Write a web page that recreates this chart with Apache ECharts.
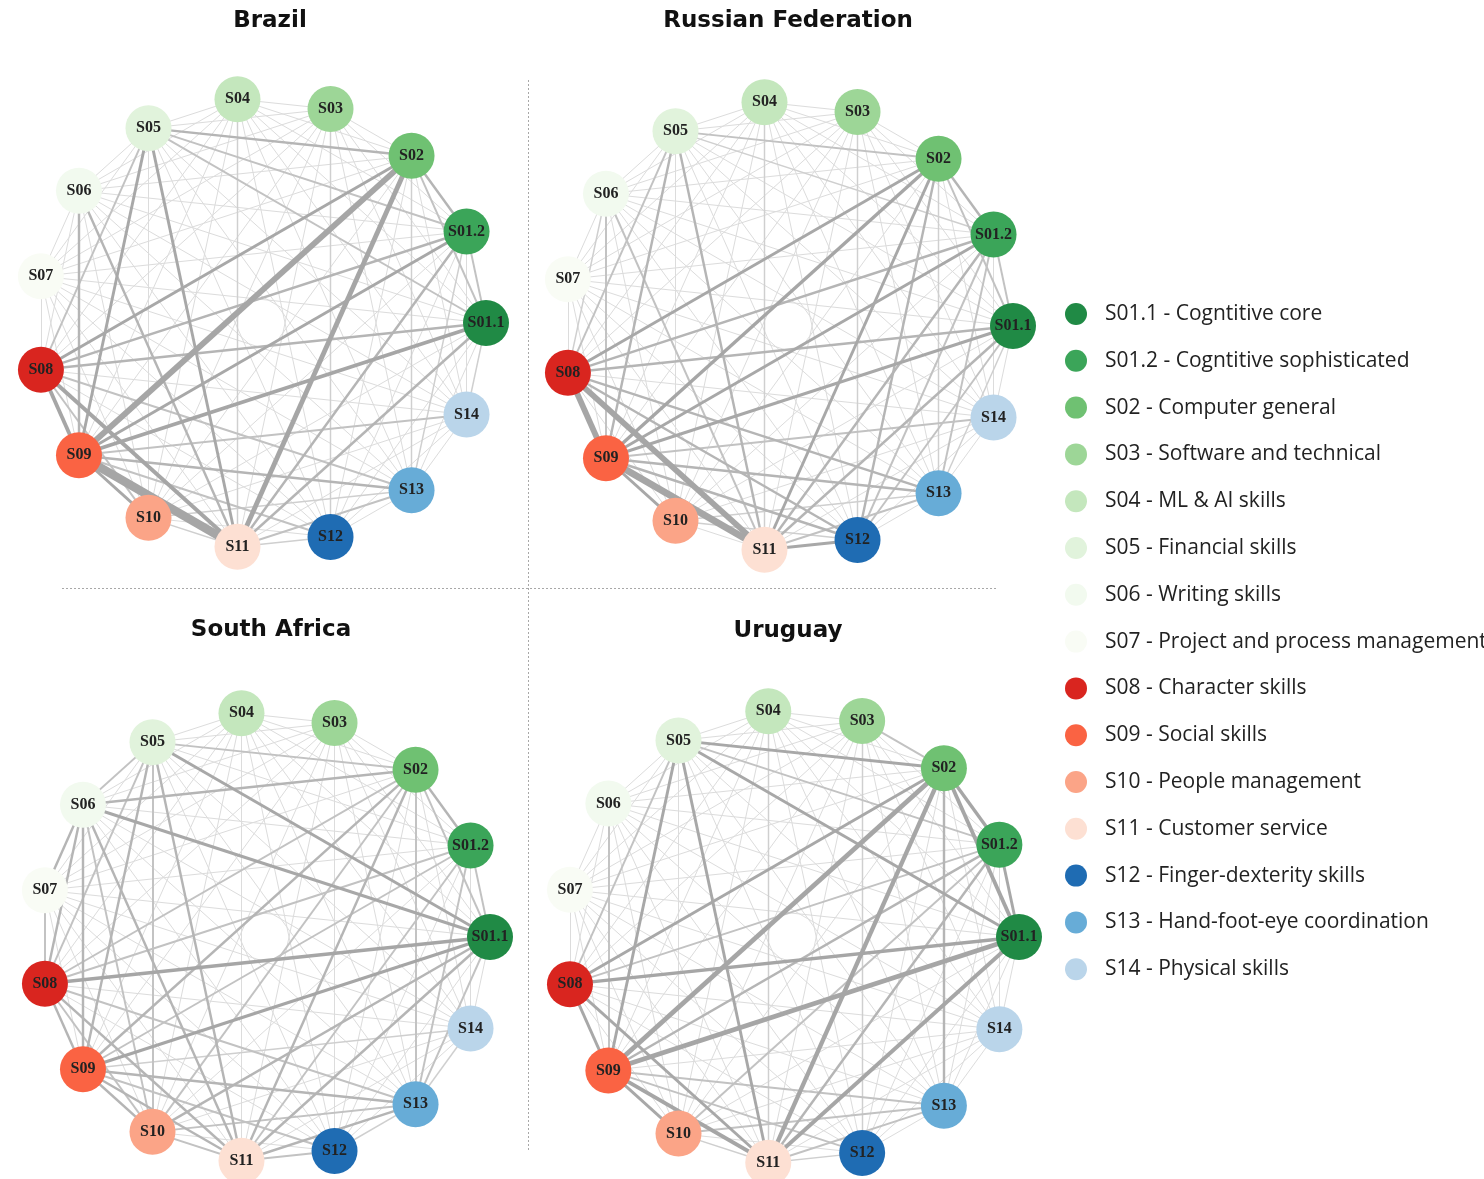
<!DOCTYPE html>
<html>
<head>
<meta charset="utf-8">
<script src="https://cdn.jsdelivr.net/npm/echarts@6/dist/echarts.min.js"></script>
<style>
  html, body { margin: 0; padding: 0; background: #ffffff; }
  #chart { width: 1484px; height: 1179px; }
</style>
</head>
<body>
<div id="chart"></div>
<script>
// Skill groups shown as nodes, in the order they sit around each ring
const skillIds = ['S01.1', 'S01.2', 'S02', 'S03', 'S04', 'S05', 'S06', 'S07',
                  'S08', 'S09', 'S10', 'S11', 'S12', 'S13', 'S14'];
const skillNames = ['Cogntitive core', 'Cogntitive sophisticated', 'Computer general',
  'Software and technical', 'ML & AI skills', 'Financial skills', 'Writing skills',
  'Project and process management', 'Character skills', 'Social skills',
  'People management', 'Customer service', 'Finger-dexterity skills',
  'Hand-foot-eye coordination', 'Physical skills'];
const countries = ['Brazil', 'Russian Federation', 'South Africa', 'Uruguay'];

// Co-occurrence strength of every pair not listed below
const baseLevel = 1;

// Stronger skill pairs per country: [skill, skill, strength]
const brazilLinks = [
  ['S09', 'S11', 9], ['S09', 'S02', 6], ['S11', 'S02', 5], ['S08', 'S09', 4],
  ['S08', 'S11', 4], ['S09', 'S01.1', 4], ['S09', 'S10', 3], ['S09', 'S01.2', 3],
  ['S08', 'S02', 3], ['S05', 'S09', 3], ['S05', 'S11', 3], ['S08', 'S01.2', 2.5],
  ['S08', 'S01.1', 2.5], ['S05', 'S02', 2.5], ['S06', 'S09', 2.5], ['S06', 'S11', 2.5],
  ['S11', 'S01.2', 2.5], ['S11', 'S01.1', 2.5], ['S09', 'S13', 2.5], ['S02', 'S01.2', 2.5],
  ['S05', 'S08', 2], ['S05', 'S01.2', 2], ['S05', 'S01.1', 2], ['S11', 'S13', 2],
  ['S09', 'S12', 2], ['S08', 'S13', 2], ['S08', 'S10', 2], ['S01.2', 'S01.1', 2],
  ['S02', 'S01.1', 2], ['S09', 'S14', 2], ['S02', 'S13', 1.5], ['S03', 'S12', 1.5],
  ['S04', 'S11', 1.5], ['S10', 'S13', 1.5], ['S11', 'S12', 1.5], ['S10', 'S11', 1.5],
  ['S13', 'S01.2', 1.5], ['S14', 'S01.1', 1.5]
];
const russiaLinks = [
  ['S09', 'S11', 7], ['S08', 'S11', 6], ['S08', 'S09', 6], ['S09', 'S02', 3.5],
  ['S09', 'S10', 3], ['S08', 'S02', 3], ['S09', 'S01.2', 3], ['S09', 'S01.1', 3],
  ['S11', 'S02', 3], ['S11', 'S12', 3], ['S08', 'S01.2', 2.5], ['S08', 'S01.1', 2.5],
  ['S08', 'S12', 2.5], ['S08', 'S13', 2.5], ['S09', 'S12', 2.5], ['S09', 'S13', 2.5],
  ['S11', 'S01.2', 2.5], ['S11', 'S01.1', 2.5], ['S05', 'S11', 2.5], ['S05', 'S09', 2.5],
  ['S12', 'S02', 2.5], ['S02', 'S01.2', 2.5], ['S05', 'S08', 2], ['S05', 'S02', 2],
  ['S06', 'S09', 2], ['S06', 'S11', 2], ['S09', 'S14', 2], ['S11', 'S13', 2],
  ['S12', 'S01.2', 2], ['S12', 'S01.1', 2], ['S01.2', 'S01.1', 2], ['S02', 'S01.1', 2],
  ['S13', 'S01.2', 2], ['S05', 'S01.2', 1.5], ['S06', 'S08', 1.5], ['S13', 'S01.1', 1.5],
  ['S10', 'S12', 1.5], ['S10', 'S13', 1.5], ['S04', 'S11', 1.5], ['S03', 'S12', 1.5],
  ['S02', 'S13', 1.5]
];
const southAfricaLinks = [
  ['S09', 'S01.1', 3.5], ['S08', 'S01.1', 3.5], ['S05', 'S01.1', 3], ['S06', 'S01.1', 3],
  ['S10', 'S01.1', 2.5], ['S11', 'S01.1', 2.5], ['S06', 'S02', 2.5], ['S09', 'S02', 2.5],
  ['S11', 'S02', 2.5], ['S02', 'S01.2', 2.5], ['S05', 'S09', 2.5], ['S05', 'S11', 2.5],
  ['S06', 'S08', 2.5], ['S06', 'S09', 2.5], ['S06', 'S11', 2.5], ['S06', 'S07', 2.5],
  ['S08', 'S09', 2.5], ['S08', 'S11', 2.5], ['S09', 'S10', 2.5], ['S09', 'S11', 2.5],
  ['S09', 'S13', 2.5], ['S11', 'S13', 2.5], ['S02', 'S01.1', 2], ['S01.2', 'S01.1', 2],
  ['S13', 'S01.1', 2], ['S08', 'S02', 2], ['S10', 'S02', 2], ['S02', 'S13', 2],
  ['S05', 'S08', 2], ['S05', 'S10', 2], ['S05', 'S02', 2], ['S05', 'S06', 2],
  ['S06', 'S10', 2], ['S07', 'S08', 2], ['S08', 'S10', 2], ['S08', 'S13', 2],
  ['S09', 'S12', 2], ['S10', 'S11', 2], ['S10', 'S13', 2], ['S11', 'S12', 2],
  ['S11', 'S01.2', 2], ['S13', 'S01.2', 2], ['S08', 'S01.2', 2], ['S09', 'S01.2', 2],
  ['S12', 'S13', 1.5], ['S13', 'S14', 1.5], ['S09', 'S14', 1.5]
];
const uruguayLinks = [
  ['S09', 'S02', 5], ['S09', 'S01.1', 5], ['S11', 'S02', 4.5], ['S11', 'S01.1', 4],
  ['S09', 'S11', 4], ['S02', 'S01.1', 4], ['S08', 'S01.1', 3.5], ['S02', 'S01.2', 3.5],
  ['S09', 'S10', 3], ['S08', 'S09', 3], ['S08', 'S11', 3], ['S08', 'S02', 3],
  ['S01.2', 'S01.1', 3], ['S05', 'S02', 3], ['S05', 'S01.1', 3], ['S05', 'S09', 3],
  ['S05', 'S11', 3], ['S09', 'S01.2', 2.5], ['S11', 'S01.2', 2.5], ['S02', 'S13', 2.5],
  ['S05', 'S01.2', 2], ['S05', 'S08', 2], ['S11', 'S13', 2], ['S03', 'S02', 2],
  ['S08', 'S01.2', 2], ['S10', 'S13', 2], ['S09', 'S13', 2], ['S09', 'S12', 2],
  ['S06', 'S09', 2], ['S10', 'S01.2', 2], ['S04', 'S11', 1.5], ['S03', 'S12', 1.5],
  ['S11', 'S12', 1.5], ['S10', 'S11', 1.5]
];
const countryLinks = [brazilLinks, russiaLinks, southAfricaLinks, uruguayLinks];

// Node fill colours: greens for cognitive/technical, reds for socio-emotional, blues for manual
const skillColors = ['#208a45', '#3ba559', '#6fc172', '#9dd697', '#c4e7bd', '#e1f3dc',
  '#f2faef', '#f9fcf5', '#d9251f', '#fa6343', '#fba487', '#fde0d3', '#1f6cb3',
  '#67acd7', '#bad5ea'];

// Ring placement and title placement of each panel
const panels = [
  { center: [261, 323], radius: 225, titleX: 270, titleY: 10 },
  { center: [788, 326], radius: 225, titleX: 788, titleY: 10 },
  { center: [265, 937], radius: 225, titleX: 271, titleY: 619 },
  { center: [792, 937], radius: 227, titleX: 788, titleY: 620 }
];

const legendNames = skillIds.map((id, k) => id + ' - ' + skillNames[k]);

function edgeStyle(level) {
  const width = level <= 1 ? 1 : 1 + (level - 1) * 0.95;
  const g = Math.round(Math.max(166, 220 - (level - 1) * 26));
  return { width: width, color: 'rgb(' + g + ',' + g + ',' + g + ')', opacity: 1, curveness: 0 };
}

function buildLinks(strong) {
  const lookup = {};
  strong.forEach(([a, b, v]) => { lookup[a + '|' + b] = v; lookup[b + '|' + a] = v; });
  const out = [];
  for (let i = 0; i < skillIds.length; i++) {
    for (let j = i + 1; j < skillIds.length; j++) {
      const key = skillIds[i] + '|' + skillIds[j];
      const v = lookup[key] !== undefined ? lookup[key] : baseLevel;
      out.push({ source: skillIds[i], target: skillIds[j], value: v, lineStyle: edgeStyle(v) });
    }
  }
  // faint pairs first so the strong ones are painted over them
  out.sort((p, q) => p.value - q.value);
  return out;
}

const categories = legendNames.map((name, k) => ({ name: name, itemStyle: { color: skillColors[k] } }));

const option = {
  backgroundColor: '#ffffff',
  animation: false,
  title: countries.map((c, i) => ({
    text: c,
    left: panels[i].titleX,
    top: panels[i].titleY,
    padding: 0,
    textAlign: 'center',
    textStyle: { fontFamily: 'DejaVu Sans', fontWeight: 'bold', fontSize: 23, color: '#111111' }
  })),
  legend: {
    orient: 'vertical',
    left: 1065,
    top: 303,
    padding: 0,
    itemWidth: 38,
    itemHeight: 22,
    itemGap: 24.8,
    icon: 'circle',
    selectedMode: false,
    data: legendNames,
    textStyle: { fontFamily: 'Open Sans', fontSize: 21, color: '#222222', lineHeight: 22, padding: [0, 0, 0, 5] }
  },
  polar: panels.map(p => ({ center: p.center, radius: [0, p.radius] })),
  angleAxis: panels.map((p, i) => ({
    polarIndex: i, type: 'value', min: 0, max: skillIds.length, startAngle: 0,
    clockwise: false, show: false
  })),
  radiusAxis: panels.map((p, i) => ({ polarIndex: i, type: 'value', min: 0, max: 1, show: false })),
  graphic: [
    { type: 'line', silent: true, shape: { x1: 528.5, y1: 80, x2: 528.5, y2: 1152 },
      style: { stroke: '#a8a8a8', lineWidth: 1, lineDash: [2, 2] } },
    { type: 'line', silent: true, shape: { x1: 62, y1: 588.5, x2: 998, y2: 588.5 },
      style: { stroke: '#a8a8a8', lineWidth: 1, lineDash: [2, 2] } }
  ],
  series: countries.map((c, i) => ({
    name: c,
    type: 'graph',
    coordinateSystem: 'polar',
    polarIndex: i,
    layout: 'none',
    symbol: 'circle',
    symbolSize: 46,
    categories: categories,
    data: skillIds.map((id, k) => ({ name: id, value: [1, k], category: k })),
    links: buildLinks(countryLinks[i]),
    label: {
      show: true, position: 'inside', formatter: '{b}',
      fontFamily: 'Liberation Serif', fontWeight: 'bold', fontSize: 16, color: '#222222'
    },
    itemStyle: { opacity: 1 },
    emphasis: { disabled: true },
    silent: true
  }))
};

const chart = echarts.init(document.getElementById('chart'), null, { renderer: 'canvas' });
chart.setOption(option);
</script>
</body>
</html>
